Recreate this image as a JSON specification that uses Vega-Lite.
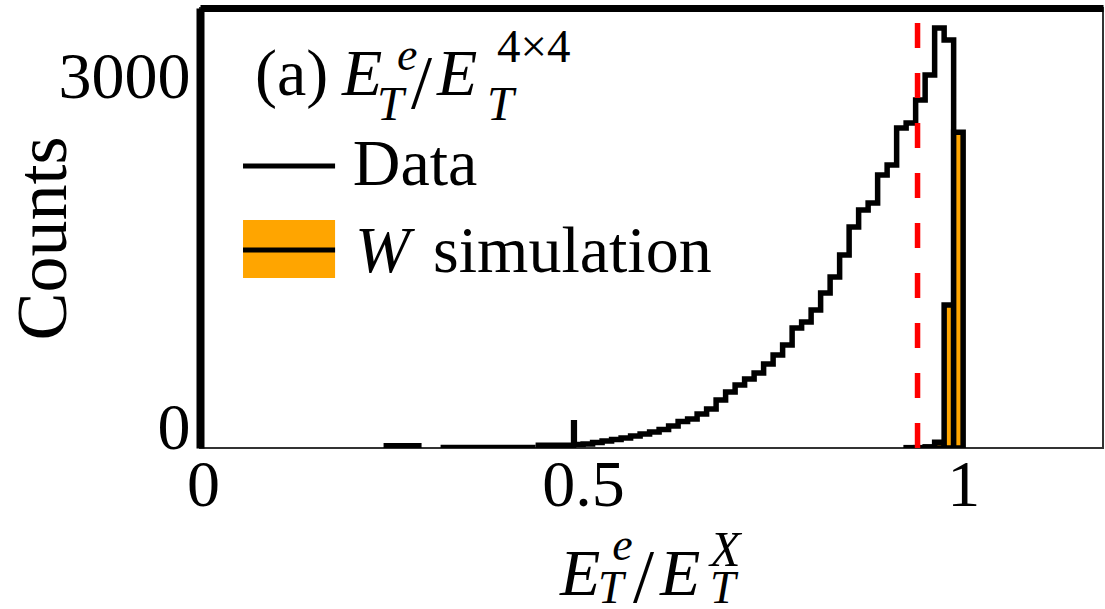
{
  "$schema": "https://vega.github.io/schema/vega-lite/v6.json",
  "width": 903,
  "height": 440,
  "autosize": {"type": "none"},
  "padding": {"left": 200, "top": 8, "right": 2, "bottom": 161},
  "background": "white",
  "config": {
    "view": {"stroke": "#333333", "strokeWidth": 2},
    "text": {"font": "Liberation Serif", "color": "black", "align": "left", "baseline": "alphabetic"}
  },
  "datasets": {
    "hist": [
      {"seg": "a", "x": 0.2375, "count": 20},
      {"seg": "a", "x": 0.2875, "count": 20},
      {"seg": "b", "x": 0.3125, "count": 5},
      {"seg": "b", "x": 0.4375, "count": 5},
      {"seg": "c", "x": 0.4375, "count": 24},
      {"seg": "c", "x": 0.4875, "count": 215},
      {"seg": "c", "x": 0.4885, "count": 30},
      {"seg": "c", "x": 0.5, "count": 34},
      {"seg": "c", "x": 0.5125, "count": 47},
      {"seg": "c", "x": 0.525, "count": 60},
      {"seg": "c", "x": 0.5375, "count": 73},
      {"seg": "c", "x": 0.55, "count": 85},
      {"seg": "c", "x": 0.5625, "count": 103},
      {"seg": "c", "x": 0.575, "count": 120},
      {"seg": "c", "x": 0.5875, "count": 137},
      {"seg": "c", "x": 0.6, "count": 158},
      {"seg": "c", "x": 0.6125, "count": 188},
      {"seg": "c", "x": 0.625, "count": 226},
      {"seg": "c", "x": 0.6375, "count": 248},
      {"seg": "c", "x": 0.65, "count": 291},
      {"seg": "c", "x": 0.6625, "count": 333},
      {"seg": "c", "x": 0.675, "count": 410},
      {"seg": "c", "x": 0.6875, "count": 479},
      {"seg": "c", "x": 0.7, "count": 538},
      {"seg": "c", "x": 0.7125, "count": 590},
      {"seg": "c", "x": 0.725, "count": 641},
      {"seg": "c", "x": 0.7375, "count": 718},
      {"seg": "c", "x": 0.75, "count": 795},
      {"seg": "c", "x": 0.7625, "count": 880},
      {"seg": "c", "x": 0.775, "count": 1026},
      {"seg": "c", "x": 0.7875, "count": 1077},
      {"seg": "c", "x": 0.8, "count": 1179},
      {"seg": "c", "x": 0.8125, "count": 1325},
      {"seg": "c", "x": 0.825, "count": 1462},
      {"seg": "c", "x": 0.8375, "count": 1650},
      {"seg": "c", "x": 0.85, "count": 1889},
      {"seg": "c", "x": 0.8625, "count": 2034},
      {"seg": "c", "x": 0.875, "count": 2094},
      {"seg": "c", "x": 0.8875, "count": 2333},
      {"seg": "c", "x": 0.9, "count": 2419},
      {"seg": "c", "x": 0.9125, "count": 2735},
      {"seg": "c", "x": 0.925, "count": 2778},
      {"seg": "c", "x": 0.9375, "count": 2974},
      {"seg": "c", "x": 0.95, "count": 3188},
      {"seg": "c", "x": 0.9625, "count": 3590},
      {"seg": "c", "x": 0.975, "count": 3487},
      {"seg": "c", "x": 0.9875, "count": 0}
    ],
    "wsim": [
      {"x0": 0.925, "x1": 0.9375, "count": 3},
      {"x0": 0.9375, "x1": 0.95, "count": 3},
      {"x0": 0.95, "x1": 0.9625, "count": 10},
      {"x0": 0.9625, "x1": 0.975, "count": 50},
      {"x0": 0.975, "x1": 0.9875, "count": 1222},
      {"x0": 0.9875, "x1": 1.0, "count": 2700}
    ],
    "one": [{}]
  },
  "resolve": {"axis": {"x": "independent"}},
  "layer": [
    {
      "data": {"name": "hist"},
      "mark": {"type": "line", "interpolate": "step-after", "color": "black", "strokeWidth": 5.5, "clip": true},
      "encoding": {
        "x": {"field": "x", "type": "quantitative",
          "scale": {"domain": [-0.004, 1.184], "nice": false, "zero": false},
          "axis": {"orient": "bottom", "values": [0, 0.5, 1], "format": "~g", "ticks": false, "tickSize": 0, "grid": false, "domain": false,
            "labelFont": "Liberation Serif", "labelFontSize": 66, "labelColor": "black", "labelBaseline": "alphabetic", "labelPadding": 57, "labelFlush": false, "title": null}},
        "y": {"field": "count", "type": "quantitative",
          "scale": {"domain": [0, 3761], "nice": false, "zero": false},
          "axis": {"values": [0, 3000], "format": "d", "ticks": false, "tickSize": 0, "grid": false, "domain": true, "domainColor": "black", "domainWidth": 8,
            "labelFont": "Liberation Serif", "labelFontSize": 66, "labelColor": "black", "labelBaseline": "alphabetic", "labelPadding": 10, "labelFlush": false,
            "title": "Counts", "titleFont": "Liberation Serif", "titleFontSize": 72, "titleFontWeight": "normal", "titleColor": "black",
            "titleX": -135, "titleY": 230, "titleAngle": 270, "titleAlign": "center", "titleBaseline": "alphabetic"}},
        "detail": {"field": "seg"}
      }
    },
    {
      "data": {"name": "wsim"},
      "mark": {"type": "rect", "fill": "#FFA500", "stroke": "black", "strokeWidth": 5.5, "clip": true},
      "encoding": {
        "x": {"field": "x0", "type": "quantitative", "scale": {"domain": [-0.004, 1.184], "nice": false, "zero": false},
          "axis": {"orient": "top", "labels": false, "ticks": false, "tickSize": 0, "grid": false, "domain": true, "domainColor": "black", "domainWidth": 7, "title": null}},
        "x2": {"field": "x1"},
        "y": {"field": "count", "type": "quantitative", "scale": {"domain": [0, 3761], "nice": false, "zero": false}},
        "y2": {"datum": 0}
      }
    },
    {
      "data": {"name": "one"},
      "mark": {"type": "rule", "color": "#FF0000", "strokeWidth": 5.5, "strokeDash": [25, 25], "strokeDashOffset": 35},
      "encoding": {
        "x": {"datum": 0.94, "type": "quantitative", "axis": null},
        "y": {"datum": 3761, "type": "quantitative"},
        "y2": {"datum": 0}
      }
    },
    {
      "data": {"name": "one"},
      "mark": {"type": "rule", "color": "black", "strokeWidth": 5},
      "encoding": {
        "x": {"datum": 0.0526, "type": "quantitative", "axis": null},
        "x2": {"datum": 0.1737},
        "y": {"datum": 2410, "type": "quantitative"}
      }
    },
    {
      "data": {"name": "one"},
      "mark": {"type": "rect", "fill": "#FFA500"},
      "encoding": {
        "x": {"datum": 0.0526, "type": "quantitative", "axis": null},
        "x2": {"datum": 0.1737},
        "y": {"datum": 1949, "type": "quantitative"},
        "y2": {"datum": 1453}
      }
    },
    {
      "data": {"name": "one"},
      "mark": {"type": "rule", "color": "black", "strokeWidth": 5},
      "encoding": {
        "x": {"datum": 0.0526, "type": "quantitative", "axis": null},
        "x2": {"datum": 0.1737},
        "y": {"datum": 1692, "type": "quantitative"}
      }
    },
    {
      "data": {"name": "one"},
      "mark": {"type": "text", "text": "Data", "fontSize": 66},
      "encoding": {"x": {"datum": 0.197, "type": "quantitative", "axis": null}, "y": {"datum": 2248, "type": "quantitative"}}
    },
    {
      "data": {"name": "one"},
      "mark": {"type": "text", "text": "W", "fontSize": 66, "fontStyle": "italic"},
      "encoding": {"x": {"datum": 0.2, "type": "quantitative", "axis": null}, "y": {"datum": 1504, "type": "quantitative"}}
    },
    {
      "data": {"name": "one"},
      "mark": {"type": "text", "text": "simulation", "fontSize": 66},
      "encoding": {"x": {"datum": 0.3026, "type": "quantitative", "axis": null}, "y": {"datum": 1504, "type": "quantitative"}}
    },
    {
      "data": {"name": "one"},
      "mark": {"type": "text", "text": "(a)", "fontSize": 66},
      "encoding": {"x": {"datum": 0.0684, "type": "quantitative", "axis": null}, "y": {"datum": 3017, "type": "quantitative"}}
    },
    {
      "data": {"name": "one"},
      "mark": {"type": "text", "text": "E", "fontSize": 66, "fontStyle": "italic"},
      "encoding": {"x": {"datum": 0.1829, "type": "quantitative", "axis": null}, "y": {"datum": 3017, "type": "quantitative"}}
    },
    {
      "data": {"name": "one"},
      "mark": {"type": "text", "text": "T", "fontSize": 48, "fontStyle": "italic"},
      "encoding": {"x": {"datum": 0.2289, "type": "quantitative", "axis": null}, "y": {"datum": 2803, "type": "quantitative"}}
    },
    {
      "data": {"name": "one"},
      "mark": {"type": "text", "text": "e", "fontSize": 46, "fontStyle": "italic"},
      "encoding": {"x": {"datum": 0.2553, "type": "quantitative", "axis": null}, "y": {"datum": 3231, "type": "quantitative"}}
    },
    {
      "data": {"name": "one"},
      "mark": {"type": "text", "text": "/", "fontSize": 76},
      "encoding": {"x": {"datum": 0.2737, "type": "quantitative", "axis": null}, "y": {"datum": 2906, "type": "quantitative"}}
    },
    {
      "data": {"name": "one"},
      "mark": {"type": "text", "text": "E", "fontSize": 66, "fontStyle": "italic"},
      "encoding": {"x": {"datum": 0.3079, "type": "quantitative", "axis": null}, "y": {"datum": 3017, "type": "quantitative"}}
    },
    {
      "data": {"name": "one"},
      "mark": {"type": "text", "text": "T", "fontSize": 48, "fontStyle": "italic"},
      "encoding": {"x": {"datum": 0.3737, "type": "quantitative", "axis": null}, "y": {"datum": 2803, "type": "quantitative"}}
    },
    {
      "data": {"name": "one"},
      "mark": {"type": "text", "text": "4×4", "fontSize": 47},
      "encoding": {"x": {"datum": 0.3868, "type": "quantitative", "axis": null}, "y": {"datum": 3299, "type": "quantitative"}}
    },
    {
      "data": {"name": "one"},
      "mark": {"type": "text", "text": "E", "fontSize": 66, "fontStyle": "italic"},
      "encoding": {"x": {"datum": 0.4697, "type": "quantitative", "axis": null}, "y": {"datum": -1257, "type": "quantitative"}}
    },
    {
      "data": {"name": "one"},
      "mark": {"type": "text", "text": "T", "fontSize": 46, "fontStyle": "italic"},
      "encoding": {"x": {"datum": 0.5197, "type": "quantitative", "axis": null}, "y": {"datum": -1325, "type": "quantitative"}}
    },
    {
      "data": {"name": "one"},
      "mark": {"type": "text", "text": "e", "fontSize": 46, "fontStyle": "italic"},
      "encoding": {"x": {"datum": 0.5382, "type": "quantitative", "axis": null}, "y": {"datum": -957, "type": "quantitative"}}
    },
    {
      "data": {"name": "one"},
      "mark": {"type": "text", "text": "/", "fontSize": 76},
      "encoding": {"x": {"datum": 0.5658, "type": "quantitative", "axis": null}, "y": {"datum": -1320, "type": "quantitative"}}
    },
    {
      "data": {"name": "one"},
      "mark": {"type": "text", "text": "E", "fontSize": 66, "fontStyle": "italic"},
      "encoding": {"x": {"datum": 0.6013, "type": "quantitative", "axis": null}, "y": {"datum": -1257, "type": "quantitative"}}
    },
    {
      "data": {"name": "one"},
      "mark": {"type": "text", "text": "X", "fontSize": 50, "fontStyle": "italic"},
      "encoding": {"x": {"datum": 0.6671, "type": "quantitative", "axis": null}, "y": {"datum": -1009, "type": "quantitative"}}
    },
    {
      "data": {"name": "one"},
      "mark": {"type": "text", "text": "T", "fontSize": 46, "fontStyle": "italic"},
      "encoding": {"x": {"datum": 0.6671, "type": "quantitative", "axis": null}, "y": {"datum": -1325, "type": "quantitative"}}
    }
  ]
}
